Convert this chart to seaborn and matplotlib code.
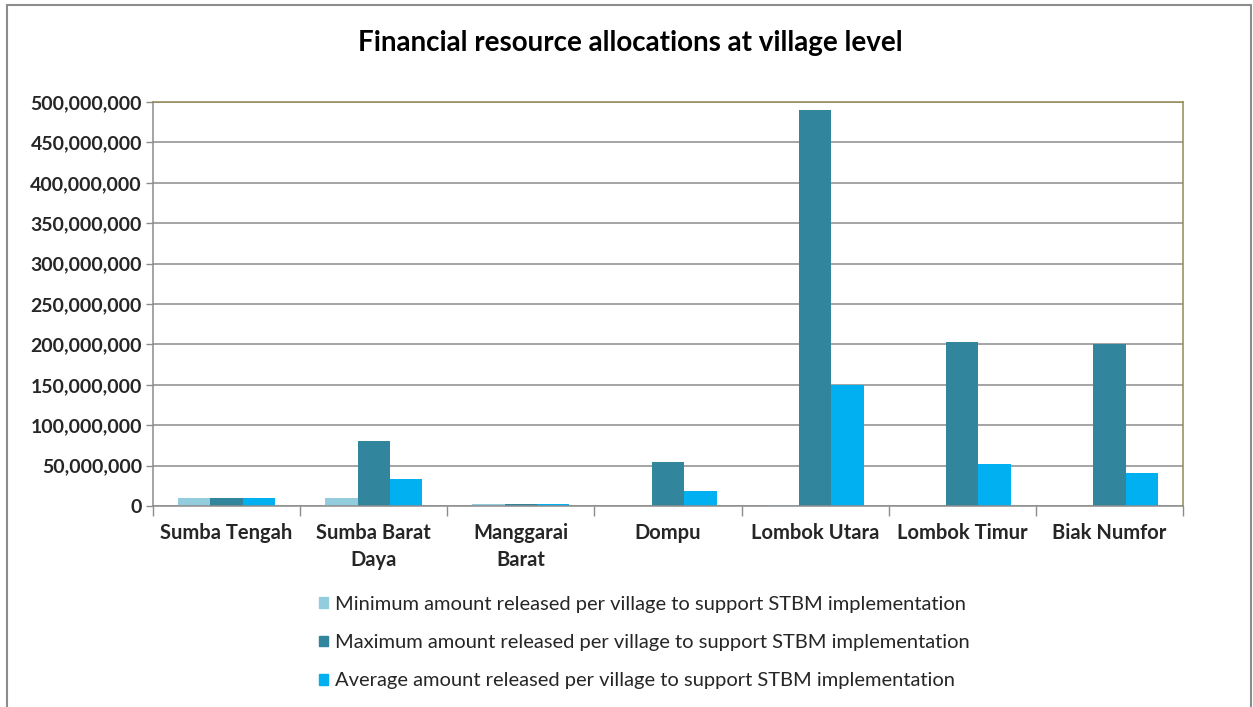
import matplotlib
matplotlib.use("Agg")
import matplotlib.pyplot as plt
import seaborn as sns
import pandas as pd
import numpy as np
from matplotlib.ticker import FuncFormatter, FixedLocator
from matplotlib.lines import Line2D

categories = ["Sumba Tengah", "Sumba Barat\nDaya", "Manggarai\nBarat", "Dompu",
              "Lombok Utara", "Lombok Timur", "Biak Numfor"]
series_names = [
    "Minimum amount released per village to support STBM implementation",
    "Maximum amount released per village to support STBM implementation",
    "Average amount released per village to support STBM implementation",
]
min_vals = [10_000_000, 10_000_000, 2_000_000, 0, 1_500_000, 0, 0]
max_vals = [10_000_000, 80_000_000, 2_000_000, 55_000_000, 490_000_000, 203_000_000, 200_000_000]
avg_vals = [10_000_000, 33_000_000, 2_000_000, 19_000_000, 150_000_000, 52_000_000, 41_000_000]
colors = ["#93CDDD", "#31859C", "#00B0F0"]

rows = []
for name, vals in zip(series_names, [min_vals, max_vals, avg_vals]):
    for c, v in zip(categories, vals):
        rows.append({"District": c, "Series": name, "Value": v})
df = pd.DataFrame(rows)

sns.set_theme(style="white")
plt.rcParams["font.family"] = ["Lato", "DejaVu Sans"]

fig = plt.figure(figsize=(12.53, 7.07), dpi=100)
ax = fig.add_axes([153/1253, 1 - 506/707, (1183-153)/1253, (506-102)/707])

sns.barplot(data=df, x="District", y="Value", hue="Series", palette=colors,
            width=0.66, saturation=1, ax=ax, legend=True, edgecolor="none")

ax.set_ylim(0, 500_000_000)
ax.set_xlim(-0.5, len(categories) - 0.5)
ax.set_yticks(np.arange(0, 500_000_001, 50_000_000))
ax.yaxis.set_major_formatter(FuncFormatter(lambda v, p: f"{int(v):,}"))
ax.yaxis.grid(True, color="#8C8C8C", linewidth=1.1)
ax.set_axisbelow(True)
ax.set_xlabel("")
ax.set_ylabel("")

for lab in ax.get_yticklabels():
    lab.set_fontweight("bold")
    lab.set_fontsize(14)
ax.tick_params(axis="y", which="major", direction="out", length=5, width=1,
               color="#8C8C8C", pad=3, left=True)
ax.tick_params(axis="x", which="major", length=0, pad=12)
ax.set_xticks(range(len(categories)))
ax.set_xticklabels(categories, fontweight="bold", fontsize=14.5, linespacing=1.45)
ax.xaxis.set_minor_locator(FixedLocator(np.arange(-0.5, len(categories), 1.0)))
ax.tick_params(axis="x", which="minor", direction="out", length=7, width=1,
               color="#8C8C8C", bottom=True)

for s in ["left", "bottom"]:
    ax.spines[s].set_color("#8C8C8C")
    ax.spines[s].set_linewidth(1.1)
for s in ["top", "right"]:
    ax.spines[s].set_color("#938953")
    ax.spines[s].set_linewidth(1.1)

ax.get_legend().remove()
handles = [plt.Rectangle((0, 0), 1, 1, color=c) for c in colors]
fig.legend(handles, series_names, loc="upper left",
           bbox_to_anchor=(309/1253, 1 - 586/707), frameon=False,
           fontsize=14.5, handlelength=0.45, handleheight=0.45,
           handletextpad=0.35, labelspacing=1.05, borderpad=0,
           labelcolor="#262626")

fig.text(630/1253, 1 - 43/707, "Financial resource allocations at village level",
         ha="center", va="center", fontsize=20, fontweight="bold", color="black")

border = "#8C8C8C"
fig.add_artist(Line2D([7/1253, 7/1253], [0, 1 - 5/707], color=border, lw=1.5))
fig.add_artist(Line2D([7/1253, 1251/1253], [1 - 5/707, 1 - 5/707], color=border, lw=1.5))
fig.add_artist(Line2D([1251/1253, 1251/1253], [0, 1 - 5/707], color=border, lw=1.5))

fig.savefig("out.png", dpi=100)
